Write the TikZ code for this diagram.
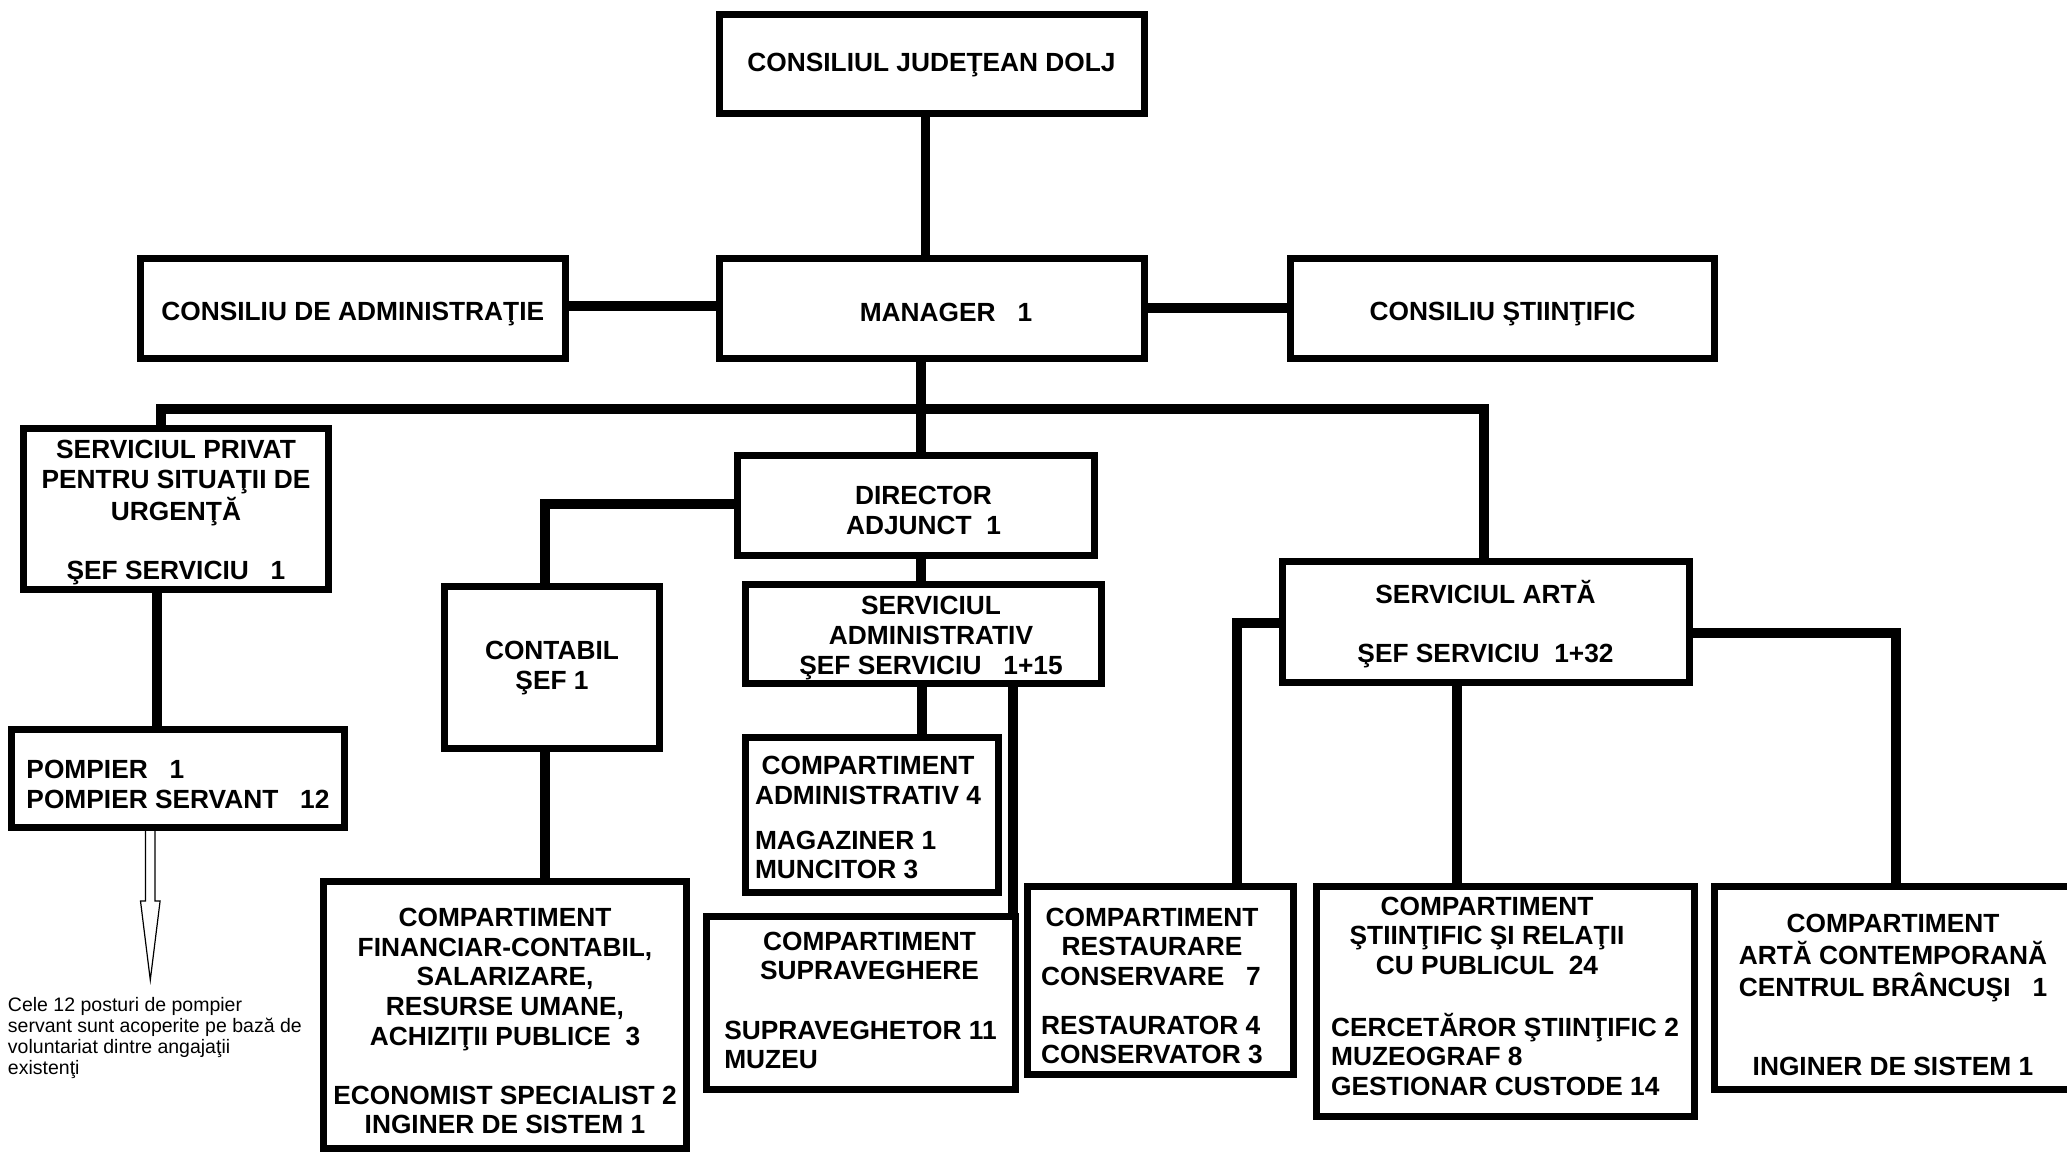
\documentclass[tikz,border=0pt]{standalone}
\usepackage{fontspec}
\setmainfont{Liberation Sans}
\usetikzlibrary{calc}
\setlength{\tabcolsep}{0pt}
\renewcommand{\arraystretch}{1}
\newcommand{\tb}[2]{\begin{tabular}{#1}#2\end{tabular}}
\newcommand{\dnst}[1]{\rule[-#1]{0pt}{#1}}
\newcommand{\upst}[1]{\rule{0pt}{#1}}
\newcommand{\mcc}[1]{\multicolumn{1}{c}{#1}}
\begin{document}
\begin{tikzpicture}[x=1pt,y=-1pt,
  box/.style={draw, line width=7pt, inner sep=0pt, outer sep=0pt,
    font=\fontsize{26.3}{29.6}\selectfont\bfseries},
  conn/.style={line width=10pt},
  thinconn/.style={line width=9pt},
  note/.style={inner sep=0pt, outer sep=0pt, align=left,
    font=\fontsize{19.5}{21}\selectfont},
  hollow/.style={line width=1.2pt}]
\useasboundingbox (0,0) rectangle (2067,1153);
\fill[white] (0,0) rectangle (2067,1153);
\clip (0,0) rectangle (2067,1153);

% boxes
\node[box, minimum width=425pt, minimum height=99pt] (cj) at (931.5,64) {\tb{c}{\upst{23.7pt}CONSILIUL JUDEŢEAN DOLJ}};
\node[box, minimum width=425pt, minimum height=99.5pt] (manager) at (931.5,308.25) {\hspace*{29pt}\tb{c}{\upst{35.2pt}MANAGER~~~1}};
\node[box, minimum width=424.5pt, minimum height=99.5pt] (admin) at (352.75,308.25) {\tb{c}{\upst{33.2pt}CONSILIU DE ADMINISTRAŢIE}};
\node[box, minimum width=424pt, minimum height=99.5pt] (stiint) at (1502.5,308.25) {\tb{c}{\upst{33.2pt}CONSILIU ŞTIINŢIFIC}};

\node[box, minimum width=305pt, minimum height=161pt] (privat) at (176,509) {\tb{c}{\upst{29.1pt}SERVICIUL PRIVAT\\PENTRU SITUAŢII DE\\URGENŢĂ\\[29.6pt]ŞEF SERVICIU~~~1}};
\node[box, minimum width=333pt, minimum height=98pt] (pompier) at (178,778.5) {\tb{l}{\upst{39.3pt}POMPIER~~~1\\POMPIER SERVANT~~~12}};

\node[box, minimum width=357pt, minimum height=100pt] (director) at (915.5,505) {\hspace*{16pt}\tb{c}{\upst{37.3pt}DIRECTOR\\ADJUNCT~~1}};
\node[box, minimum width=215pt, minimum height=162.5pt] (contabil) at (552,667.25) {\tb{c}{\upst{22.8pt}CONTABIL\\ŞEF 1}};
\node[box, minimum width=363pt, minimum height=267pt] (financiar) at (505,1014.5) {\tb{c}{\upst{40.3pt}COMPARTIMENT\\FINANCIAR-CONTABIL,\\SALARIZARE,\\RESURSE UMANE,\\ACHIZIŢII PUBLICE~~3\\[29.6pt]ECONOMIST SPECIALIST 2\\INGINER DE SISTEM 1}};
\node[box, minimum width=356pt, minimum height=99pt] (servadm) at (923,633.5) {\hspace*{16pt}\tb{c}{\upst{30.9pt}SERVICIUL\\ADMINISTRATIV\\ŞEF SERVICIU~~~1+15}};
\node[box, minimum width=253pt, minimum height=155pt] (compadm) at (871.5,814.5) {\tb{l}{\mcc{\upst{33.5pt}COMPARTIMENT}\\ADMINISTRATIV 4\\[15pt]MAGAZINER 1\\MUNCITOR 3}\hspace*{7pt}};
\node[box, minimum width=309pt, minimum height=173pt] (suprav) at (860.5,1002.5) {\tb{l}{\mcc{\upst{22.7pt}\hspace*{18pt}COMPARTIMENT}\\\mcc{\hspace*{18pt}SUPRAVEGHERE}\\[29.6pt]SUPRAVEGHETOR 11\\MUZEU}};

\node[box, minimum width=407pt, minimum height=121pt] (servarta) at (1485.5,621.5) {\tb{c}{\upst{31.7pt}SERVICIUL ARTĂ\\[29.6pt]ŞEF SERVICIU~~1+32}};
\node[box, minimum width=266pt, minimum height=188pt] (restaur) at (1160,980) {\tb{l}{\mcc{\upst{38.7pt}COMPARTIMENT}\\\mcc{RESTAURARE}\\CONSERVARE~~~7\\[19.4pt]RESTAURATOR 4\\CONSERVATOR 3}\hspace*{16pt}};
\node[box, minimum width=378pt, minimum height=230pt] (compstiint) at (1505,1001) {\tb{l}{\mcc{COMPARTIMENT\hspace*{36pt}}\\\mcc{ŞTIINŢIFIC ŞI RELAŢII\hspace*{36pt}}\\\mcc{CU PUBLICUL~~24\hspace*{36pt}}\\[29.6pt]CERCETĂROR ŞTIINŢIFIC 2\\MUZEOGRAF 8\\GESTIONAR CUSTODE 14\dnst{11.9pt}}};
\node[box, minimum width=366pt, minimum height=203pt] (arta) at (1897,987.5) {\tb{c}{\upst{41.3pt}COMPARTIMENT\\ARTĂ CONTEMPORANĂ\\CENTRUL BRÂNCUŞI~~~1\\[49pt]INGINER DE SISTEM 1}\hspace*{8pt}};

\node[note, anchor=north west] (note) at (8,997.5) {Cele 12 posturi de pompier\\servant sunt acoperite pe bază de\\voluntariat dintre angajaţii\\existenţi};

% connector guide coordinates
\coordinate (xcj) at (925,0);
\coordinate (yadm) at (0,306);
\coordinate (yst) at (0,308);
\coordinate (xmg) at (921,0);
\coordinate (bl) at (161,409);
\coordinate (br) at (1484,409);
\coordinate (xpp) at (157,0);
\coordinate (ydir) at (0,504);
\coordinate (xct) at (545,0);
\coordinate (xsa1) at (922,0);
\coordinate (xsa2) at (1013,0);
\coordinate (yal) at (0,623);
\coordinate (xal) at (1237,0);
\coordinate (xab) at (1457,0);
\coordinate (yar) at (0,633);
\coordinate (xar) at (1896,0);
\coordinate (xarw) at (150.3,0);

% connectors
\draw[thinconn] (cj.south -| xcj) -- (manager.north -| xcj);
\draw[conn] (admin.east |- yadm) -- (manager.west |- yadm);
\draw[conn] (manager.east |- yst) -- (stiint.west |- yst);
\draw[conn] (manager.south -| xmg) -- (director.north -| xmg);
\draw[conn] (privat.north -| bl) -- (bl) -- (br) -- (servarta.north -| br);
\draw[conn] (privat.south -| xpp) -- (pompier.north -| xpp);
\draw[conn] (director.west |- ydir) -| (contabil.north -| xct);
\draw[conn] (contabil.south -| xct) -- (financiar.north -| xct);
\draw[conn] (director.south -| xmg) -- (servadm.north -| xmg);
\draw[conn] (servadm.south -| xsa1) -- (compadm.north -| xsa1);
\draw[conn] (servadm.south -| xsa2) -- (suprav.north -| xsa2);
\draw[conn] (servarta.west |- yal) -| (restaur.north -| xal);
\draw[conn] (servarta.south -| xab) -- (compstiint.north -| xab);
\draw[conn] (servarta.east |- yar) -| (arta.north -| xar);

% hollow arrow from pompier box towards the note
\coordinate (ar) at (pompier.south -| xarw);
\draw[hollow] ($(ar)+(-4.75,0)$) -- ($(ar)+(-4.75,73.5)$) -- ($(ar)+(-9.8,73.5)$) -- ($(ar)+(0,152.5)$) -- ($(ar)+(9.8,73.5)$) -- ($(ar)+(4.75,73.5)$) -- ($(ar)+(4.75,0)$);
\end{tikzpicture}
\end{document}
